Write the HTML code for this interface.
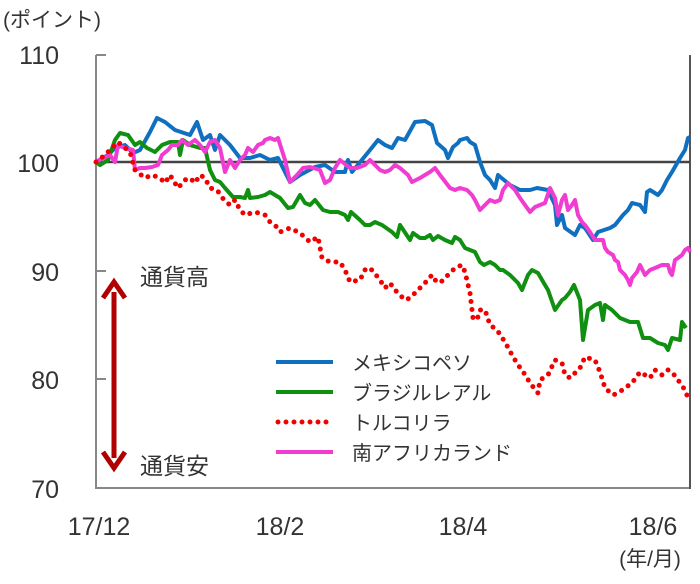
<!DOCTYPE html>
<html><head><meta charset="utf-8"><style>
body{margin:0;background:#fff;}
svg text{font-family:"Liberation Sans","Noto Sans CJK JP",sans-serif;fill:#333;}
</style></head><body>
<svg width="700" height="579" viewBox="0 0 700 579" xmlns="http://www.w3.org/2000/svg">
<text x="3" y="27" font-size="21">(ポイント)</text>
<g font-size="25" text-anchor="end">
<text x="59" y="64">110</text>
<text x="59" y="172">100</text>
<text x="59" y="281">90</text>
<text x="59" y="389">80</text>
<text x="59" y="498">70</text>
</g>
<g font-size="25" text-anchor="middle">
<text x="99" y="535">17/12</text>
<text x="280" y="535">18/2</text>
<text x="463" y="535">18/4</text>
<text x="653" y="535">18/6</text>
</g>
<text x="650" y="566" font-size="21" text-anchor="middle">(年/月)</text>
<g stroke="#888" stroke-width="2">
<line x1="96" y1="55" x2="96" y2="489"/>
<line x1="95" y1="488" x2="690" y2="488"/>
<line x1="690" y1="55" x2="690" y2="489" stroke="#555"/>
<line x1="96" y1="55" x2="106" y2="55"/>
<line x1="96" y1="271" x2="106" y2="271"/>
<line x1="96" y1="379" x2="106" y2="379"/>
</g>
<line x1="96" y1="162" x2="690" y2="162" stroke="#444" stroke-width="2.5"/>
<g fill="none" stroke-width="4" stroke-linejoin="round">
<polyline stroke="#1070c0" points="96,162 108,155 115,148 125,145 133,153 140,150 150,132 157,118 165,122 175,130 190,135 197,122 203,140 210,135 215,150 220,135 230,145 240,158 250,158 260,155 270,160 278,158 290,182 300,175 315,167 325,165 335,172 345,172 348,160 352,172 370,150 378,140 385,145 392,148 398,138 405,140 415,122 425,121 432,125 437,143 445,150 448,158 453,147 458,143 460,140 467,138 470,142 475,145 480,162 485,175 490,180 495,188 498,175 510,185 520,190 530,190 537,188 548,190 555,205 557,225 562,215 565,228 575,235 580,225 585,228 593,240 598,232 604,230 610,228 615,225 623,215 628,210 632,203 640,205 645,212 647,192 650,190 658,195 662,190 667,180 672,172 680,158 685,150 688,138 690,137"/>
<polyline stroke="#109010" points="96,162 100,165 108,160 115,140 120,133 128,135 135,145 140,142 147,148 155,152 162,145 170,142 178,142 180,155 183,140 190,145 200,148 205,148 210,170 215,180 220,182 225,188 233,197 240,197 245,198 248,190 250,198 258,197 265,195 270,192 280,198 288,208 293,207 300,195 305,203 310,205 315,200 323,210 330,212 338,212 345,215 348,220 351,212 360,220 365,225 370,225 375,222 382,225 392,232 397,237 400,225 410,240 413,233 420,238 425,238 430,235 433,240 438,236 445,240 452,243 455,237 460,240 465,248 470,250 475,252 480,262 484,265 490,262 495,265 500,270 503,270 510,275 518,283 522,290 528,275 532,270 538,273 545,285 548,290 555,310 562,300 565,298 570,292 574,285 580,300 583,340 588,310 595,305 600,303 603,320 605,305 612,310 620,318 630,322 638,322 643,338 650,338 658,343 665,345 668,350 672,338 680,340 682,322 686,328"/>
<polyline stroke="#f03cd0" points="96,162 103,158 110,155 115,162 118,145 125,148 133,150 135,170 140,168 145,168 152,167 158,165 162,155 168,150 172,145 178,145 182,140 188,145 195,140 200,145 205,152 210,142 215,140 220,148 225,172 230,160 235,168 240,160 245,155 248,148 253,152 258,145 263,143 265,140 270,138 275,140 278,138 285,160 290,182 297,175 303,168 310,167 320,170 325,183 330,180 335,168 340,160 350,168 357,168 365,165 370,160 375,165 380,170 385,172 390,170 395,165 400,168 408,175 412,182 420,178 425,175 430,172 435,168 440,175 450,188 455,190 460,188 467,190 472,195 475,200 480,210 485,205 490,200 495,202 500,200 503,190 508,183 515,190 520,198 525,205 530,212 535,207 545,203 550,188 555,198 558,215 562,200 565,195 568,210 572,205 575,200 578,215 582,222 585,225 590,232 595,240 600,240 603,240 605,248 608,252 613,255 615,260 618,262 620,270 625,275 628,280 630,285 632,278 637,272 640,265 645,275 650,270 655,268 662,265 668,265 670,272 672,275 675,260 678,258 682,255 685,250 688,248 690,252"/>
<polyline stroke="#f00000" stroke-width="5" stroke-linecap="round" stroke-dasharray="0 8" points="96,162 105,155 112,148 118,142 125,148 130,152 135,170 145,178 152,175 160,178 165,183 170,175 178,188 185,180 190,178 195,183 200,175 205,178 210,188 217,190 224,200 230,205 235,200 240,210 245,215 255,212 265,215 270,222 275,225 280,232 290,228 300,233 310,242 318,237 322,258 330,262 340,262 345,270 350,282 360,280 366,268 372,270 380,280 385,288 390,283 395,290 400,295 405,300 410,298 418,290 425,283 432,275 435,280 440,283 448,275 455,268 462,265 465,272 470,293 473,318 477,320 480,310 485,310 490,325 497,330 505,342 512,355 518,365 522,370 527,378 530,383 538,393 540,380 548,375 555,360 562,363 565,375 570,378 575,373 580,368 585,357 595,360 600,372 605,388 613,395 618,393 625,388 632,383 640,372 650,378 655,370 662,375 668,370 672,372 678,380 685,390 688,398"/>
</g>
<g stroke-width="4">
<line x1="276" y1="362" x2="333" y2="362" stroke="#1070c0"/>
<line x1="276" y1="392" x2="333" y2="392" stroke="#109010"/>
<line x1="278" y1="422" x2="333" y2="422" stroke="#f00000" stroke-width="5" stroke-linecap="round" stroke-dasharray="0 8"/>
<line x1="276" y1="452" x2="333" y2="452" stroke="#f03cd0"/>
</g>
<g font-size="20">
<text x="352" y="370">メキシコペソ</text>
<text x="352" y="400">ブラジルレアル</text>
<text x="352" y="430">トルコリラ</text>
<text x="352" y="460">南アフリカランド</text>
</g>
<g font-size="23">
<text x="140" y="285">通貨高</text>
<text x="140" y="474">通貨安</text>
</g>
<line x1="114" y1="292" x2="114" y2="458" stroke="#b00000" stroke-width="5"/>
<polyline points="103,298 114,282 125,298" fill="none" stroke="#b00000" stroke-width="5" stroke-linejoin="miter"/>
<polyline points="103,452 114,468 125,452" fill="none" stroke="#b00000" stroke-width="5" stroke-linejoin="miter"/>
</svg>
</body></html>
